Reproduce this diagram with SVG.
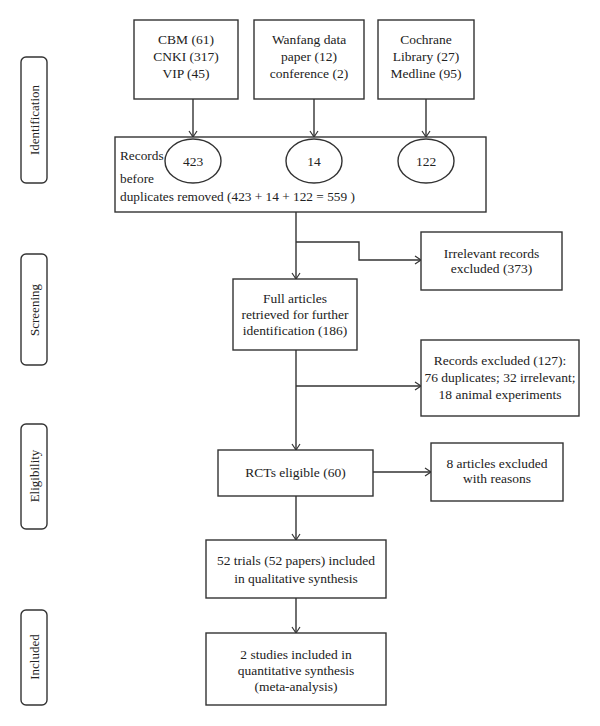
<svg xmlns="http://www.w3.org/2000/svg" width="600" height="726" viewBox="0 0 600 726">
<defs>
<marker id="arr" markerWidth="10" markerHeight="10" refX="8" refY="5" orient="auto" markerUnits="userSpaceOnUse">
<path d="M2,1 L8,5 L2,9" fill="none" stroke="#333" stroke-width="1.2"/>
</marker>
<style>
.box{fill:#fff;stroke:#333;stroke-width:1.4}
.side{fill:#fff;stroke:#333;stroke-width:1.4}
.t{font-family:"Liberation Serif","Times New Roman",serif;font-size:13.5px;fill:#222;text-anchor:middle}
.tl{font-family:"Liberation Serif","Times New Roman",serif;font-size:13.3px;fill:#222}
.s{font-family:"Liberation Serif","Times New Roman",serif;font-size:13px;fill:#222;text-anchor:middle}
.c{fill:none;stroke:#333;stroke-width:1.4}
</style>
</defs>
<rect width="600" height="726" fill="#fff"/>
<g id="side-identification"><rect class="side" x="21" y="57" width="26" height="126" rx="5"/><text class="s" transform="translate(38.5,120) rotate(-90)">Identification</text></g>
<g id="side-screening"><rect class="side" x="21" y="254" width="26" height="111" rx="5"/><text class="s" transform="translate(38.5,310) rotate(-90)">Screening</text></g>
<g id="side-eligibility"><rect class="side" x="21" y="424" width="26" height="105" rx="5"/><text class="s" transform="translate(38.5,476) rotate(-90)">Eligibility</text></g>
<g id="side-included"><rect class="side" x="21" y="610" width="26" height="95" rx="5"/><text class="s" transform="translate(38.5,657) rotate(-90)">Included</text></g>
<g id="connectors">
<line class="c" x1="193" y1="99" x2="193" y2="137" marker-end="url(#arr)"/>
<line class="c" x1="314" y1="99" x2="314" y2="137" marker-end="url(#arr)"/>
<line class="c" x1="426" y1="99" x2="426" y2="137" marker-end="url(#arr)"/>
<line class="c" x1="296" y1="212" x2="296" y2="279" marker-end="url(#arr)"/>
<polyline class="c" points="296,242 359,242 359,260 421,260" marker-end="url(#arr)"/>
<line class="c" x1="296" y1="350" x2="296" y2="450" marker-end="url(#arr)"/>
<line class="c" x1="296" y1="386" x2="421" y2="386" marker-end="url(#arr)"/>
<line class="c" x1="373" y1="472" x2="431" y2="472" marker-end="url(#arr)"/>
<line class="c" x1="296" y1="496" x2="296" y2="540" marker-end="url(#arr)"/>
<line class="c" x1="296" y1="598" x2="296" y2="633" marker-end="url(#arr)"/>
</g>
<g id="src-chinese"><rect class="box" x="134" y="20" width="104" height="79"/><text class="t" x="186" y="44">CBM (61)</text><text class="t" x="186" y="61">CNKI (317)</text><text class="t" x="186" y="78">VIP (45)</text></g>
<g id="src-wanfang"><rect class="box" x="254" y="20" width="110" height="79"/><text class="t" x="309" y="44">Wanfang data</text><text class="t" x="309" y="61">paper (12)</text><text class="t" x="309" y="78">conference (2)</text></g>
<g id="src-english"><rect class="box" x="378" y="20" width="96" height="79"/><text class="t" x="426" y="44">Cochrane</text><text class="t" x="426" y="61">Library (27)</text><text class="t" x="426" y="78">Medline (95)</text></g>
<g id="records"><rect class="box" x="115" y="137" width="371" height="75"/>
<text class="tl" x="120" y="160">Records</text><text class="tl" x="120" y="183">before</text><text class="tl" x="120" y="201">duplicates removed (423 + 14 + 122 = 559 )</text>
<ellipse class="box" cx="193" cy="161" rx="28" ry="22"/><text class="t" x="193" y="166">423</text>
<ellipse class="box" cx="314" cy="161" rx="28" ry="22"/><text class="t" x="314" y="166">14</text>
<ellipse class="box" cx="426" cy="161" rx="28" ry="22"/><text class="t" x="426" y="166">122</text>
</g>
<g id="irrelevant"><rect class="box" x="421" y="232" width="141" height="58"/><text class="t" x="491.5" y="258">Irrelevant records</text><text class="t" x="491.5" y="273">excluded (373)</text></g>
<g id="full-articles"><rect class="box" x="233" y="279" width="124" height="71"/><text class="t" x="295" y="303">Full articles</text><text class="t" x="295" y="319">retrieved for further</text><text class="t" x="295" y="335">identification (186)</text></g>
<g id="records-excluded"><rect class="box" x="421" y="340" width="158" height="76"/><text class="t" x="500" y="365">Records excluded (127):</text><text class="t" x="500" y="382">76 duplicates; 32 irrelevant;</text><text class="t" x="500" y="399">18 animal experiments</text></g>
<g id="rcts"><rect class="box" x="218" y="450" width="155" height="46"/><text class="t" x="295.5" y="477">RCTs eligible (60)</text></g>
<g id="excluded-8"><rect class="box" x="431" y="443" width="132" height="58"/><text class="t" x="497" y="468">8 articles excluded</text><text class="t" x="497" y="483">with reasons</text></g>
<g id="qualitative"><rect class="box" x="206" y="540" width="180" height="58"/><text class="t" x="296" y="565">52 trials (52 papers) included</text><text class="t" x="296" y="583">in qualitative synthesis</text></g>
<g id="quantitative"><rect class="box" x="206" y="633" width="180" height="72"/><text class="t" x="296" y="659">2 studies included in</text><text class="t" x="296" y="675">quantitative synthesis</text><text class="t" x="296" y="691">(meta-analysis)</text></g>
</svg>
